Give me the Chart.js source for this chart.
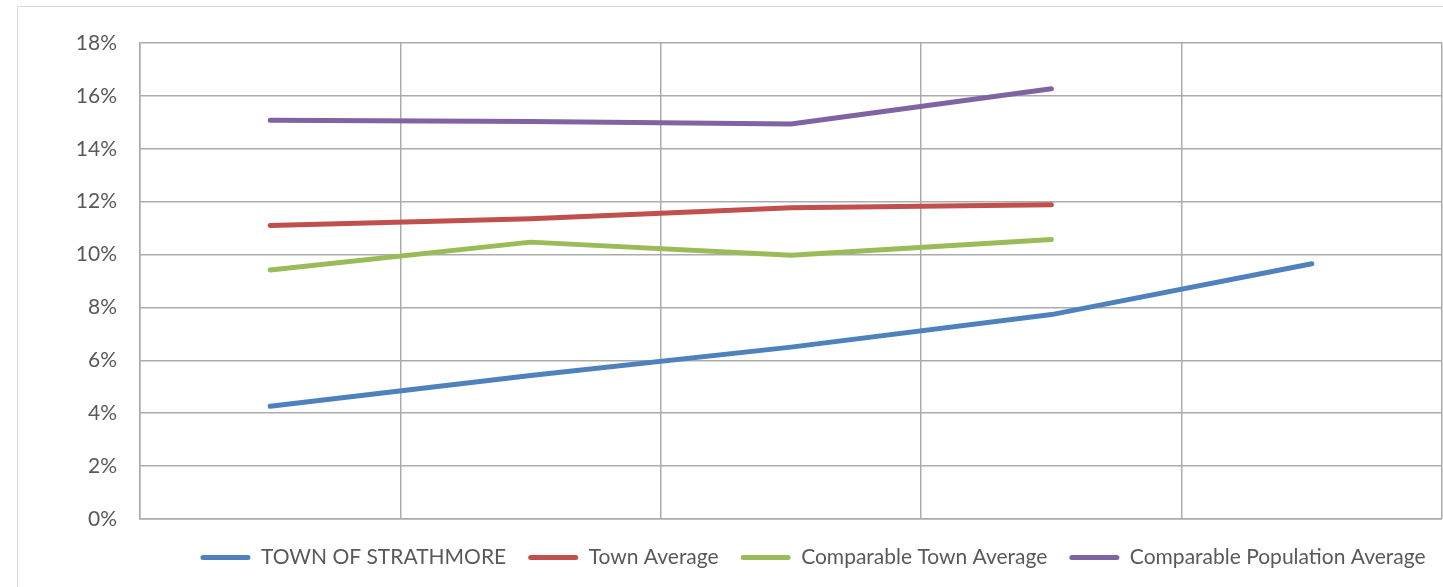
<!DOCTYPE html>
<html>
<head>
<meta charset="utf-8">
<script src="https://cdn.jsdelivr.net/npm/chart.js@4"></script>
<style>
  html, body { margin: 0; padding: 0; background: #fff; overflow: hidden; width: 1443px; height: 587px; }
  #box { position: absolute; left: 17px; top: 6px; width: 1592px; height: 600px; border: 1px solid #d9d9d9; box-sizing: border-box; background: #fff; }
  #box canvas { display: block; }
</style>
</head>
<body>
<div id="box"><canvas id="c" width="1590" height="585"></canvas></div>
<script>
const categories = ['', '', '', '', ''];
const townOfStrathmore = [4.26, 5.43, 6.5, 7.73, 9.65];
const townAverage = [11.1, 11.35, 11.77, 11.88, null];
const comparableTownAverage = [9.42, 10.47, 9.97, 10.57, null];
const comparablePopulationAverage = [15.08, 15.03, 14.94, 16.27, null];
const yTicks = [0, 2, 4, 6, 8, 10, 12, 14, 16, 18];

const FONT = 'Lato, "Open Sans", sans-serif';
const TEXT = '#595959';
const GRID = '#ababab';

function ds(label, data, color) {
  return {
    label, data,
    borderColor: color, backgroundColor: color,
    borderWidth: 5, pointRadius: 0, pointHoverRadius: 0,
    tension: 0, spanGaps: false, borderCapStyle: 'round', borderJoinStyle: 'round'
  };
}

new Chart(document.getElementById('c'), {
  type: 'line',
  data: {
    labels: categories,
    datasets: [
      ds('TOWN OF STRATHMORE', townOfStrathmore, '#4f81bd'),
      ds('Town Average', townAverage, '#c0504d'),
      ds('Comparable Town Average', comparableTownAverage, '#9bbb59'),
      ds('Comparable Population Average', comparablePopulationAverage, '#8064a2')
    ]
  },
  options: {
    responsive: false,
    animation: false,
    events: [],
    layout: { padding: { left: 0, right: 0, top: 36, bottom: 14 } },
    scales: {
      x: {
        offset: true,
        grid: { offset: true, color: GRID, lineWidth: 1.5, drawTicks: false },
        border: { display: true, color: GRID, width: 1.5 },
        ticks: { display: false },
        afterFit: (s) => { s.height = 6; }
      },
      y: {
        min: 0, max: 18,
        afterBuildTicks: (s) => { s.ticks = yTicks.map(v => ({ value: v })); },
        afterFit: (s) => { s.width = 122; },
        grid: { color: GRID, lineWidth: 1.5, drawTicks: false },
        border: { display: true, color: GRID, width: 1.5 },
        ticks: {
          padding: 23,
          color: TEXT,
          font: { family: FONT, size: 21 },
          callback: (v) => v + '%'
        }
      },
      yRight: {
        position: 'right',
        display: true,
        grid: { display: false, drawTicks: false },
        border: { display: false },
        ticks: { display: false },
        afterFit: (s) => { s.width = 166; }
      }
    },
    plugins: {
      tooltip: { enabled: false },
      legend: {
        position: 'bottom',
        labels: {
          color: TEXT,
          font: { family: FONT, size: 21 },
          boxWidth: 50,
          boxHeight: 5,
          padding: 22,
          useBorderRadius: true,
          borderRadius: 2.5,
          generateLabels: (chart) => chart.data.datasets.map((d, i) => ({
            text: d.label, fillStyle: d.borderColor, strokeStyle: d.borderColor,
            lineWidth: 0, datasetIndex: i, hidden: false, fontColor: TEXT, borderRadius: 2.5
          }))
        }
      }
    }
  }
});
</script>
</body>
</html>
